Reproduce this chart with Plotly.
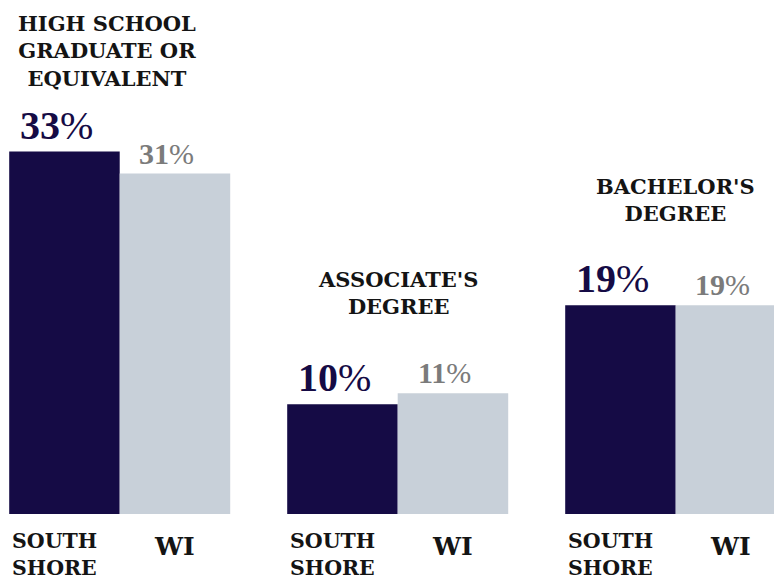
import plotly.graph_objects as go

# Educational attainment: South Shore vs. Wisconsin
categories = ["HIGH SCHOOL<br>GRADUATE OR<br>EQUIVALENT", "ASSOCIATE'S<br>DEGREE", "BACHELOR'S<br>DEGREE"]
south_shore = [33, 10, 19]
wisconsin = [31, 11, 19]
series_names = ["SOUTH<br>SHORE", "WI"]

NAVY = "#150b45"
GREY_BAR = "#c8d0d9"
GREY_TEXT = "#7b7b7b"
INK = "#141414"
TITLE_FONT = "DejaVu Serif"
NUM_FONT = "Liberation Serif"

PLOT_H = 514  # pixel height of the plotting area
# bottom edge (px from top) of each group's title block
title_bottom_px = [93, 321, 228]

x_idx = list(range(len(categories)))

fig = go.Figure()
fig.add_trace(go.Bar(x=x_idx, y=south_shore, name="South Shore",
                     marker=dict(color=NAVY, line=dict(width=0))))
fig.add_trace(go.Bar(x=x_idx, y=wisconsin, name="WI",
                     marker=dict(color=GREY_BAR, line=dict(width=0))))

HALF = 55  # horizontal pixel offset from group centre to each bar centre
annotations = []
for i, (ss, wi) in enumerate(zip(south_shore, wisconsin)):
    # value labels above bars
    annotations.append(dict(x=i, y=ss, xref="x", yref="y", xshift=-HALF - 8, yshift=2,
                            text=f"<b>{ss}</b>%", showarrow=False, yanchor="bottom",
                            font=dict(family=NUM_FONT, size=40, color=NAVY)))
    annotations.append(dict(x=i, y=wi, xref="x", yref="y", xshift=HALF - 8, yshift=2,
                            text=f"<b>{wi}</b>%", showarrow=False, yanchor="bottom",
                            font=dict(family=NUM_FONT, size=30, color=GREY_TEXT)))
    # category titles above each group
    annotations.append(dict(x=i, y=1 - title_bottom_px[i] / PLOT_H, xref="x", yref="paper",
                            xshift=-13 if i == 0 else 0,
                            text=f"<b>{categories[i]}</b>", showarrow=False,
                            yanchor="bottom", align="center",
                            font=dict(family=TITLE_FONT, size=21, color=INK)))
    # series labels below bars
    annotations.append(dict(x=i, y=0, xref="x", yref="y", xshift=-HALF - 10, yshift=-13,
                            text=f"<b>{series_names[0]}</b>", showarrow=False,
                            yanchor="top", align="left",
                            font=dict(family=TITLE_FONT, size=20.5, color=INK)))
    annotations.append(dict(x=i, y=0, xref="x", yref="y", xshift=HALF, yshift=-16,
                            text=f"<b>{series_names[1]}</b>", showarrow=False,
                            yanchor="top",
                            font=dict(family=TITLE_FONT, size=25, color=INK)))

fig.update_layout(
    width=774, height=582,
    margin=dict(l=0, r=0, t=0, b=582 - PLOT_H),
    paper_bgcolor="white", plot_bgcolor="white",
    barmode="group", bargap=0.205, bargroupgap=0,
    showlegend=False,
    annotations=annotations,
    xaxis=dict(range=[-0.4306, 2.3536], visible=False, fixedrange=True),
    yaxis=dict(range=[0, 46.8], visible=False, fixedrange=True),
)

fig.write_html("out.html")
